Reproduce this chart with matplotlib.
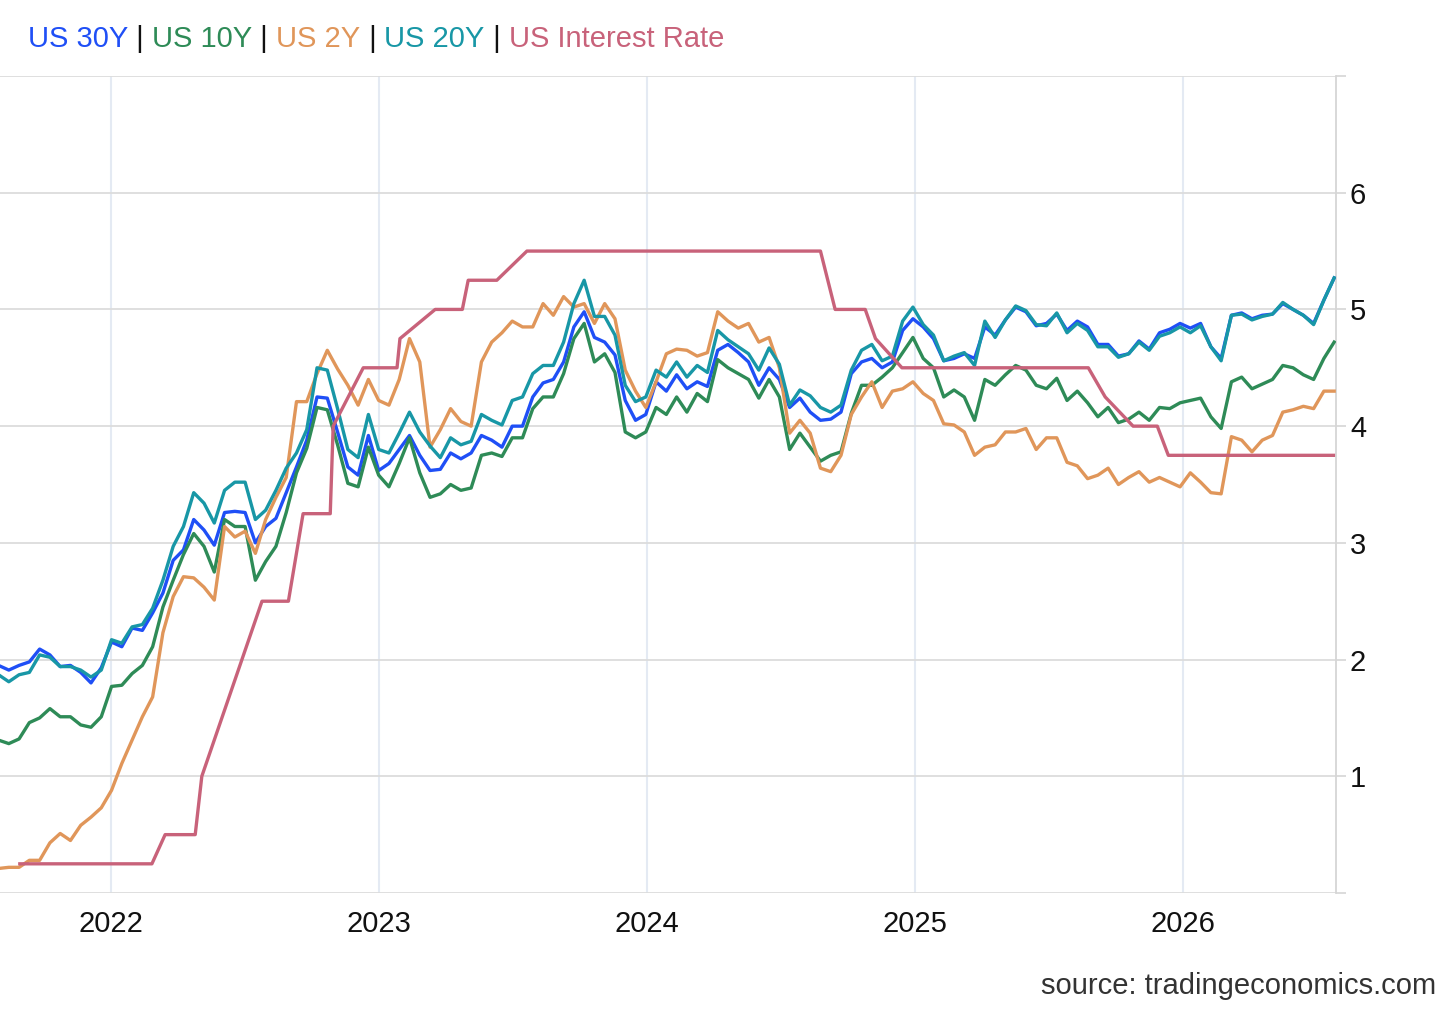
import matplotlib
matplotlib.use("Agg")
import matplotlib.pyplot as plt
import matplotlib.dates as mdates
import pandas as pd

# ---------------- data ----------------
yield_start = "2021-08-01"   # bi-weekly samples
us30 = [1.95,1.91,1.95,1.98,2.09,2.04,1.94,1.95,1.89,1.80,1.93,2.15,2.11,2.27,2.25,2.40,2.57,2.85,2.94,3.20,
        3.11,2.98,3.26,3.27,3.26,3.00,3.14,3.21,3.43,3.65,3.88,4.25,4.24,3.95,3.65,3.58,3.92,3.62,3.68,3.80,
        3.92,3.75,3.62,3.63,3.77,3.72,3.77,3.92,3.88,3.82,4.00,4.00,4.25,4.37,4.40,4.55,4.85,4.98,4.76,4.72,
        4.61,4.22,4.05,4.10,4.38,4.30,4.44,4.32,4.38,4.34,4.65,4.70,4.63,4.55,4.35,4.50,4.40,4.16,4.24,4.12,
        4.05,4.06,4.12,4.45,4.55,4.58,4.50,4.55,4.82,4.92,4.85,4.75,4.56,4.58,4.62,4.58,4.85,4.78,4.91,5.02,
        4.98,4.86,4.88,4.96,4.82,4.90,4.85,4.70,4.70,4.60,4.62,4.73,4.66,4.80,4.83,4.88,4.84,4.88,4.68,4.58,
        4.95,4.97,4.92,4.95,4.96,5.05,5.00,4.95,4.88,5.08,5.27]
us10 = [1.31,1.28,1.32,1.46,1.50,1.58,1.51,1.51,1.44,1.42,1.51,1.77,1.78,1.88,1.95,2.11,2.45,2.68,2.90,3.08,
        2.97,2.75,3.20,3.14,3.14,2.68,2.84,2.97,3.26,3.60,3.81,4.16,4.14,3.84,3.51,3.48,3.82,3.58,3.48,3.68,
        3.90,3.60,3.39,3.42,3.50,3.45,3.47,3.75,3.77,3.74,3.90,3.90,4.15,4.25,4.25,4.45,4.75,4.88,4.55,4.62,
        4.46,3.95,3.90,3.95,4.16,4.10,4.25,4.12,4.28,4.21,4.57,4.50,4.45,4.40,4.24,4.40,4.25,3.80,3.94,3.82,
        3.70,3.75,3.78,4.11,4.35,4.35,4.42,4.50,4.63,4.76,4.58,4.50,4.25,4.31,4.25,4.05,4.40,4.35,4.44,4.52,
        4.48,4.35,4.32,4.41,4.22,4.30,4.20,4.08,4.16,4.03,4.06,4.12,4.05,4.16,4.15,4.20,4.22,4.24,4.08,3.98,
        4.38,4.42,4.32,4.36,4.40,4.52,4.50,4.44,4.40,4.58,4.72]
us2 = [0.21,0.22,0.22,0.28,0.28,0.43,0.51,0.45,0.58,0.65,0.73,0.88,1.11,1.31,1.51,1.68,2.23,2.54,2.71,2.70,
       2.62,2.51,3.14,3.05,3.10,2.91,3.20,3.39,3.56,4.21,4.21,4.45,4.65,4.49,4.35,4.18,4.40,4.22,4.18,4.40,
       4.75,4.55,3.82,3.97,4.15,4.04,4.00,4.55,4.72,4.80,4.90,4.85,4.85,5.05,4.95,5.11,5.02,5.05,4.88,5.05,
       4.92,4.48,4.30,4.16,4.38,4.62,4.66,4.65,4.60,4.63,4.98,4.90,4.84,4.88,4.72,4.76,4.50,3.94,4.05,3.94,
       3.64,3.61,3.75,4.10,4.25,4.38,4.16,4.30,4.32,4.38,4.28,4.22,4.02,4.01,3.95,3.75,3.82,3.84,3.95,3.95,
       3.98,3.80,3.90,3.90,3.69,3.66,3.55,3.58,3.64,3.50,3.56,3.61,3.52,3.56,3.52,3.48,3.60,3.52,3.43,3.42,
       3.91,3.88,3.78,3.88,3.92,4.12,4.14,4.17,4.15,4.30,4.30]
us20 = [1.87,1.81,1.87,1.89,2.04,2.02,1.94,1.94,1.91,1.85,1.91,2.17,2.14,2.28,2.30,2.44,2.68,2.97,3.14,3.43,
        3.34,3.17,3.45,3.52,3.52,3.20,3.28,3.45,3.64,3.77,3.97,4.50,4.48,4.15,3.80,3.73,4.10,3.80,3.77,3.94,
        4.12,3.95,3.83,3.73,3.90,3.84,3.87,4.10,4.05,4.01,4.22,4.25,4.45,4.52,4.52,4.72,5.05,5.25,4.94,4.94,
        4.78,4.35,4.21,4.25,4.48,4.42,4.55,4.42,4.52,4.46,4.82,4.74,4.68,4.62,4.48,4.67,4.53,4.18,4.31,4.26,
        4.16,4.12,4.18,4.48,4.65,4.70,4.56,4.60,4.90,5.02,4.87,4.78,4.56,4.60,4.63,4.52,4.90,4.76,4.91,5.03,
        4.99,4.87,4.86,4.97,4.80,4.88,4.82,4.68,4.68,4.59,4.62,4.72,4.65,4.77,4.80,4.85,4.80,4.86,4.68,4.56,
        4.95,4.96,4.91,4.94,4.96,5.06,5.00,4.95,4.87,5.08,5.27]

rate_dates = ["2021-08-30","2022-02-26","2022-03-16","2022-04-26","2022-05-05","2022-07-26","2022-08-31",
              "2022-09-20","2022-10-27","2022-10-31","2022-12-11","2023-01-26","2023-01-30","2023-03-19",
              "2023-04-25","2023-05-03","2023-06-11","2023-07-22","2024-08-25","2024-09-14","2024-10-25",
              "2024-11-08","2024-12-14","2025-08-25","2025-09-17","2025-10-25","2025-11-27","2025-12-12",
              "2026-07-25"]
rate_vals = [0.25,0.25,0.5,0.5,1.0,2.5,2.5,3.25,3.25,4.0,4.5,4.5,4.75,5.0,5.0,5.25,5.25,5.5,5.5,5.0,5.0,
             4.75,4.5,4.5,4.25,4.0,4.0,3.75,3.75]

series_names = ["US 30Y", "US 10Y", "US 2Y", "US 20Y", "US Interest Rate"]
series_colors = ["#1f4ff6", "#2e8b57", "#e0965a", "#1897a6", "#c8627a"]
year_ticks = ["2022", "2023", "2024", "2025", "2026"]
y_ticks = [0, 1, 2, 3, 4, 5, 6, 7]
y_labels = ["", "1", "2", "3", "4", "5", "6", ""]

# ---------------- figure ----------------
W, H = 1456, 1009
plt.rcParams["font.family"] = ["Liberation Sans", "DejaVu Sans"]
fig = plt.figure(figsize=(W / 100, H / 100), dpi=100)
ax = fig.add_axes([0, (H - 893) / H, 1336 / W, (893 - 76) / H])

ydates = pd.date_range(yield_start, periods=len(us30), freq="14D")
rdates = pd.to_datetime(rate_dates)

lw = 2.4
for vals, col, z in [(us30, series_colors[0], 3),
                     (us10, series_colors[1], 4),
                     (us2, series_colors[2], 5),
                     (us20, series_colors[3], 6)]:
    ax.plot(ydates, vals, color=col, lw=lw, zorder=z, solid_joinstyle="round")
ax.plot(rdates, rate_vals, color=series_colors[4], lw=lw, zorder=7)

ax.set_xlim(pd.Timestamp("2021-08-03"), pd.Timestamp("2026-07-28 12:00"))
ax.set_ylim(0, 7)

ax.set_xticks(pd.to_datetime([f"{y}-01-01" for y in year_ticks]))
ax.set_xticklabels(year_ticks)
ax.set_yticks(y_ticks)
ax.set_yticklabels(y_labels)
ax.yaxis.tick_right()

ax.tick_params(axis="x", length=0, labelsize=21, pad=12, colors="#111111")
ax.tick_params(axis="y", length=7, width=1.2, color="#d6d6d6", labelsize=21, pad=3,
               labelcolor="#111111")

ax.grid(axis="y", color="#dcdcdc", lw=1.3, zorder=0)
ax.grid(axis="x", color="#e4eaf3", lw=1.5, zorder=0)
ax.set_axisbelow(True)
for s in ["top", "left", "bottom"]:
    ax.spines[s].set_visible(False)
ax.spines["right"].set_color("#d6d6d6")
ax.spines["right"].set_linewidth(1.3)
ax.set_facecolor("white")

# ---------------- coloured legend title ----------------
fig.canvas.draw()
r = fig.canvas.get_renderer()
xpix = 28
ypos = 1 - 39 / H
parts = []
for i, (n, c) in enumerate(zip(series_names, series_colors)):
    parts.append((n, c))
    if i < len(series_names) - 1:
        parts.append((" | ", "#111111"))
for txt, col in parts:
    t = fig.text(xpix / W, ypos, txt, color=col, fontsize=21, ha="left", va="center")
    bb = t.get_window_extent(renderer=r)
    xpix = bb.x1

fig.text(1436 / W, 1 - 986 / H, "source: tradingeconomics.com", ha="right", va="center",
         fontsize=21, color="#333333")

fig.savefig("out.png", dpi=100, facecolor="white")
